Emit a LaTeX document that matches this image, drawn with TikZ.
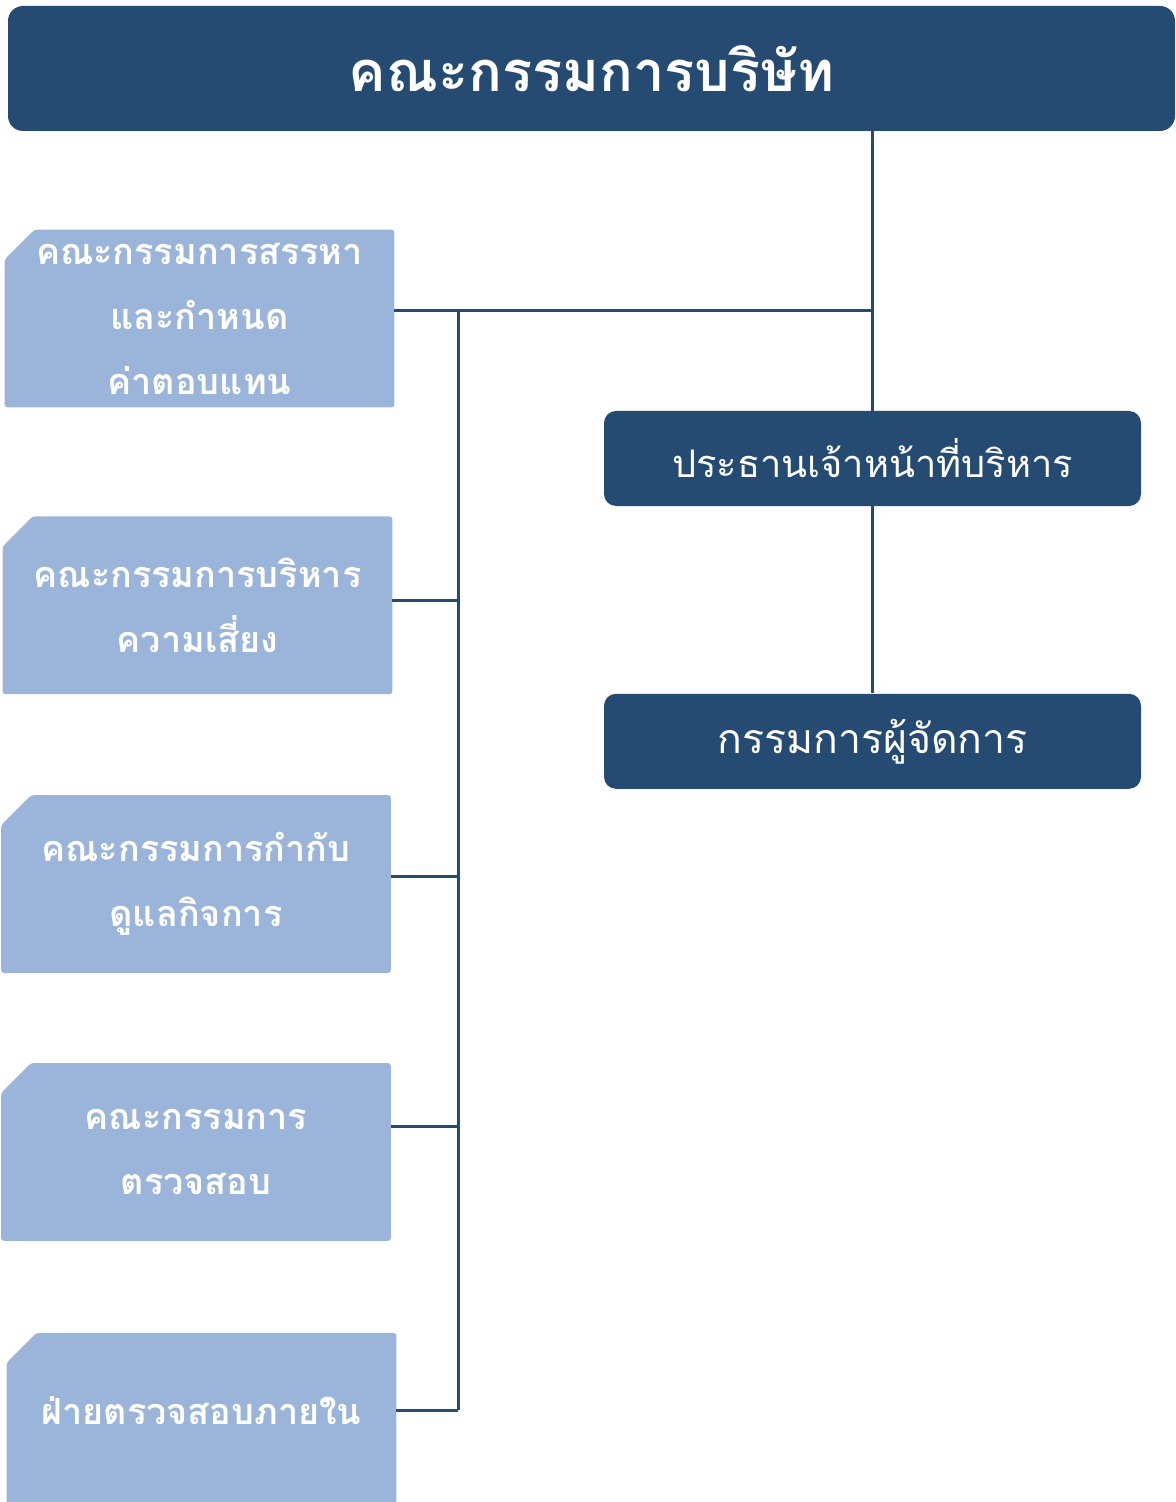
\documentclass[tikz,border=0pt]{standalone}
\usepackage{fontspec}
\newfontfamily\thaifont[Script=Thai]{Loma}
\usepackage{tikz}
\usetikzlibrary{positioning,backgrounds}

\definecolor{navy}{HTML}{264B73}
\definecolor{paleblue}{HTML}{9BB4D9}

\begin{document}
\begin{tikzpicture}[
    boardbox/.style={rectangle, fill=navy, rounded corners=7.5pt, minimum width=583.5pt, minimum height=62.5pt, align=center, text=white, font=\thaifont\bfseries\fontsize{28}{32}\selectfont},
    headbox/.style={rectangle, fill=navy, rounded corners=6pt, minimum width=268.5pt, minimum height=47.5pt, align=center, text=white, font=\thaifont\fontsize{19}{22}\selectfont},
    committee/.style={rectangle, minimum width=194.5pt, minimum height=88.5pt, inner sep=0pt, align=center, text=white, font=\thaifont\bfseries\fontsize{18}{32.5}\selectfont},
    cutfill/.style={fill=paleblue, rounded corners=1.5pt},
    link/.style={draw=navy, line width=1.5pt}
]
\useasboundingbox (0,0) rectangle (587.5pt,-751pt);

% Board
\node[boardbox] (board) at (295.75pt,-34.25pt) {คณะกรรมการบริษัท};

% Executives
\node[headbox] (ceo) at (436.25pt,-229.25pt) {ประธานเจ้าหน้าที่บริหาร};
\node[headbox, below=93.5pt of ceo, font=\thaifont\fontsize{20.5}{24}\selectfont] (md) {กรรมการผู้จัดการ};

% Committees
\node[committee] (nomination) at (99.75pt,-159.25pt) {คณะกรรมการสรรหา\\และกำหนด\\ค่าตอบแทน};
\node[committee, below=54.5pt of nomination, xshift=-1pt] (risk) {คณะกรรมการบริหาร\\ความเสี่ยง};
\node[committee, below=50.5pt of risk, xshift=-0.75pt] (governance) {คณะกรรมการกำกับ\\ดูแลกิจการ};
\node[committee, below=45pt of governance] (audit) {คณะกรรมการ\\ตรวจสอบ};
\node[committee, below=46pt of audit, xshift=2.75pt] (internal) {\raisebox{5.5pt}[\height][\depth]{ฝ่ายตรวจสอบภายใน}};

% Cut-corner boxes behind the committee texts
\begin{scope}[on background layer]
\foreach \n in {nomination, risk, governance, audit, internal}
    \fill[cutfill] (\n.south west) -- ([yshift=-15pt]\n.north west) -- ([xshift=15pt]\n.north west)
        -- (\n.north east) -- (\n.south east) -- cycle;
\end{scope}

% Lines
\draw[link] (ceo.north) -- (ceo.north |- board.south);
\draw[link] (ceo) -- (md);
\draw[link] ([yshift=3.75pt]nomination.east) coordinate (j1) -- (j1 -| ceo.north);
\coordinate (bus top) at ([xshift=32pt]j1);
\foreach \b/\s in {risk/2.5pt, governance/3.75pt, audit/12.75pt, internal/5.75pt}
    \draw[link] ([yshift=\s]\b.east) coordinate (j) -- (j -| bus top);
\draw[link] (bus top) -- (bus top |- j);

\end{tikzpicture}
\end{document}
